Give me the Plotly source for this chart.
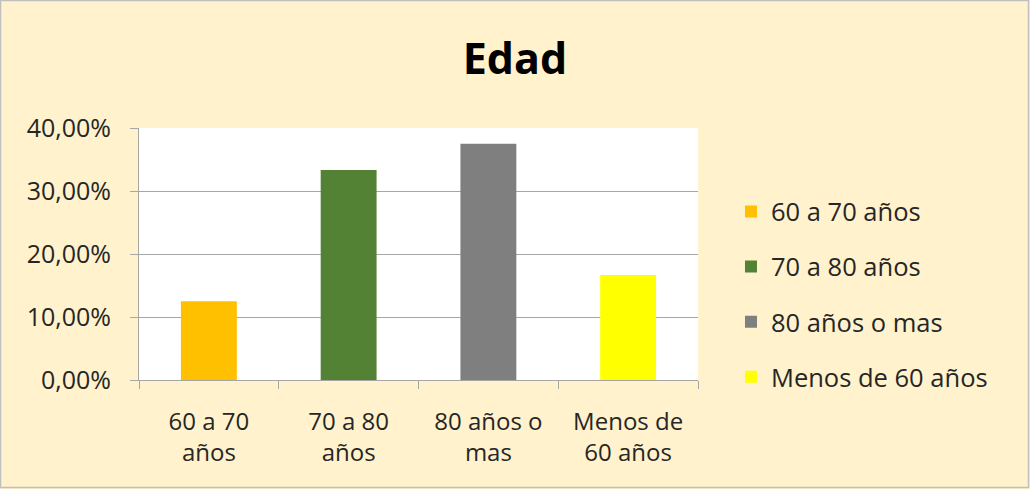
import plotly.graph_objects as go

categories = ["60 a 70<br>años", "70 a 80<br>años", "80 años o<br>mas", "Menos de<br>60 años"]
legend_names = ["60 a 70 años", "70 a 80 años", "80 años o mas", "Menos de 60 años"]
values = [0.125, 0.3333, 0.375, 0.1667]
colors = ["#FFC000", "#548235", "#7F7F7F", "#FFFF00"]

W, H = 1030, 489
ml, mr, mt, mb = 139, 332, 128, 109
font = "'Open Sans', sans-serif"

fig = go.Figure()
for i, (c, n, v, col) in enumerate(zip(categories, legend_names, values, colors)):
    fig.add_trace(go.Bar(
        x=[c], y=[v], name=n, width=0.4,
        marker=dict(color=col, line=dict(width=0)),
        legendgroup=f"g{i}",
    ))

pw = W - ml - mr
ph = H - mt - mb
fig.add_shape(type="rect", xref="paper", yref="paper",
              x0=-(ml - 0.5) / pw, x1=1 + (mr - 1.5) / pw,
              y0=-(mb - 1.5) / ph, y1=1 + (mt - 0.5) / ph,
              line=dict(color="#BFBFBF", width=1.5), fillcolor="rgba(0,0,0,0)", layer="below")

fig.update_layout(
    width=W, height=H,
    margin=dict(l=ml, r=mr, t=mt, b=mb),
    paper_bgcolor="#FFF2CC",
    plot_bgcolor="#FFFFFF",
    separators=",.",
    barmode="overlay",
    font=dict(family=font, size=24, color="#262626"),
    title=dict(text="<b>Edad</b>", x=0.5, xanchor="center", xref="container",
               y=1 - 59 / H, yanchor="middle", font=dict(size=43, color="#000000")),
    showlegend=True,
    legend=dict(x=1.059, xanchor="left", y=0.34, yanchor="middle",
                font=dict(size=25.5, color="#262626"), tracegroupgap=19,
                bgcolor="rgba(0,0,0,0)", itemwidth=30),
    xaxis=dict(categoryorder="array", categoryarray=categories,
               showline=True, linecolor="#A6A6A6", linewidth=1,
               ticks="outside", tickson="boundaries", ticklen=8, tickcolor="#A6A6A6",
               showgrid=False, tickfont=dict(size=24, color="#262626"),
               ticklabelstandoff=20, fixedrange=True),
    yaxis=dict(range=[0, 0.4], tickvals=[0, 0.1, 0.2, 0.3, 0.4], tickformat=".2%",
               showline=True, linecolor="#A6A6A6", linewidth=1,
               ticks="outside", ticklen=8, tickcolor="#A6A6A6",
               showgrid=True, gridcolor="#A6A6A6", gridwidth=1,
               zeroline=False, tickfont=dict(size=25, color="#262626"),
               ticklabelstandoff=14, fixedrange=True),
)

fig.write_html("out.html")
